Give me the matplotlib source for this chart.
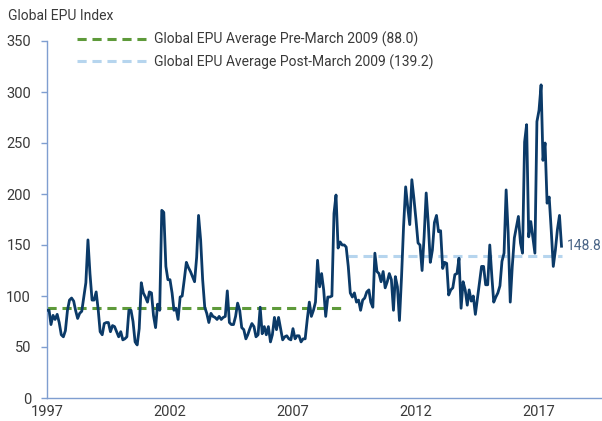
import matplotlib
matplotlib.use("Agg")
import matplotlib.pyplot as plt
import matplotlib.dates as mdates
import pandas as pd

plt.rcParams["font.family"] = ["Liberation Sans Narrow", "Roboto", "DejaVu Sans"]

# Global Economic Policy Uncertainty index, monthly from January 1997
epu_1997 = [86, 86, 72, 81, 77, 82, 74, 62, 60, 66, 86, 96]
epu_1998 = [98, 95, 86, 78, 83, 85, 99, 113, 155, 122, 96, 96]
epu_1999 = [104, 86, 65, 62, 73, 74, 74, 65, 71, 70, 65, 60]
epu_2000 = [65, 57, 58, 60, 86, 86, 75, 55, 52, 68, 113, 103]
epu_2001 = [99, 94, 104, 103, 81, 69, 92, 86, 184, 182, 129, 116]
epu_2002 = [116, 103, 86, 88, 77, 99, 100, 116, 133, 128, 124, 119]
epu_2003 = [114, 138, 179, 155, 116, 89, 83, 74, 83, 80, 79, 77]
epu_2004 = [80, 77, 79, 80, 105, 74, 72, 72, 80, 93, 86, 69]
epu_2005 = [67, 58, 62, 68, 73, 70, 60, 62, 89, 63, 70, 62]
epu_2006 = [70, 55, 62, 79, 67, 79, 68, 57, 60, 61, 58, 57]
epu_2007 = [68, 58, 61, 61, 55, 58, 58, 77, 94, 80, 86, 94]
epu_2008 = [135, 109, 122, 106, 80, 99, 99, 100, 181, 199, 147, 153]
epu_2009 = [150, 150, 148, 129, 103, 99, 103, 94, 96, 86, 96, 98]
epu_2010 = [104, 106, 94, 89, 142, 124, 122, 114, 124, 108, 114, 122]
epu_2011 = [116, 86, 119, 109, 76, 119, 168, 207, 187, 170, 214, 196]
epu_2012 = [175, 152, 150, 125, 158, 201, 172, 133, 145, 172, 179, 163]
epu_2013 = [164, 127, 133, 132, 101, 106, 108, 121, 122, 137, 88, 114]
epu_2014 = [106, 91, 106, 95, 100, 82, 97, 113, 129, 129, 111, 111]
epu_2015 = [150, 119, 94, 99, 103, 110, 134, 142, 204, 162, 94, 129]
epu_2016 = [157, 168, 178, 152, 142, 251, 268, 158, 173, 158, 142, 271]
epu_2017 = [282, 307, 233, 250, 191, 197, 165, 129, 145, 165, 179, 148.8]

epu_values = (epu_1997 + epu_1998 + epu_1999 + epu_2000 + epu_2001 + epu_2002
              + epu_2003 + epu_2004 + epu_2005 + epu_2006 + epu_2007 + epu_2008
              + epu_2009 + epu_2010 + epu_2011 + epu_2012 + epu_2013 + epu_2014
              + epu_2015 + epu_2016 + epu_2017)
months = pd.date_range("1997-01-01", periods=len(epu_values), freq="MS")

pre_avg = 88.0
post_avg = 139.2
split_month = pd.Timestamp("2009-03-01")

pre_label = f"Global EPU Average Pre-March 2009 ({pre_avg:.1f})"
post_label = f"Global EPU Average Post-March 2009 ({post_avg:.1f})"
year_ticks = [1997, 2002, 2007, 2012, 2017]

navy = "#0B3A68"
green = "#5E9A3A"
light_blue = "#B6D5EE"
axis_blue = "#7F9ED0"
text_grey = "#3A3A3A"

W, H = 602, 421
fig = plt.figure(figsize=(W / 100, H / 100), dpi=100)
ax = fig.add_axes([47 / W, 23 / H, 555 / W, 357 / H])

pre = months <= split_month
post = months > split_month
avg_dashes = (3.0, 1.9)
ax.plot([months[pre][0], months[pre][-1]], [pre_avg, pre_avg], color=green,
        lw=2.2, dashes=avg_dashes, label=pre_label, zorder=2)
ax.plot([months[post][0], months[post][-1]], [post_avg, post_avg], color=light_blue,
        lw=2.2, dashes=avg_dashes, label=post_label, zorder=2)
ax.plot(months, epu_values, color=navy, lw=2.0, solid_joinstyle="round", zorder=3)

ax.annotate(f"{epu_values[-1]:.1f}", xy=(months[-1], epu_values[-1]),
            xytext=(5, 0), textcoords="offset pixels", va="center", ha="left",
            color="#4A6587", fontsize=10)

ax.set_ylim(0, 350)
ax.set_yticks(range(0, 351, 50))
left = pd.Timestamp("1997-01-01")
ax.set_xlim(mdates.date2num(left), mdates.date2num(left) + 555 / 2.05 * 30.437)
ax.set_xticks([mdates.date2num(pd.Timestamp(f"{y}-01-01")) for y in year_ticks])
ax.set_xticklabels([str(y) for y in year_ticks])

for side in ("top", "right"):
    ax.spines[side].set_visible(False)
for side in ("left", "bottom"):
    ax.spines[side].set_color(axis_blue)
    ax.spines[side].set_linewidth(1.0)
ax.tick_params(axis="y", length=4.5, width=1.0, color=axis_blue, pad=7,
               labelsize=10.5, labelcolor=text_grey)
ax.tick_params(axis="x", length=0, pad=5, labelsize=10.5, labelcolor=text_grey)

fig.text(8 / W, 1 - 16 / H, "Global EPU Index", fontsize=10, color=text_grey,
         va="center", ha="left")

leg = ax.legend(loc="upper left", bbox_to_anchor=(77 / W, 1 - 32 / H),
                bbox_transform=fig.transFigure, frameon=False, fontsize=10,
                handlelength=5.0, handletextpad=0.55, labelspacing=0.5,
                borderpad=0, borderaxespad=0)
for t in leg.get_texts():
    t.set_color(text_grey)

fig.savefig("out.png", dpi=100)
